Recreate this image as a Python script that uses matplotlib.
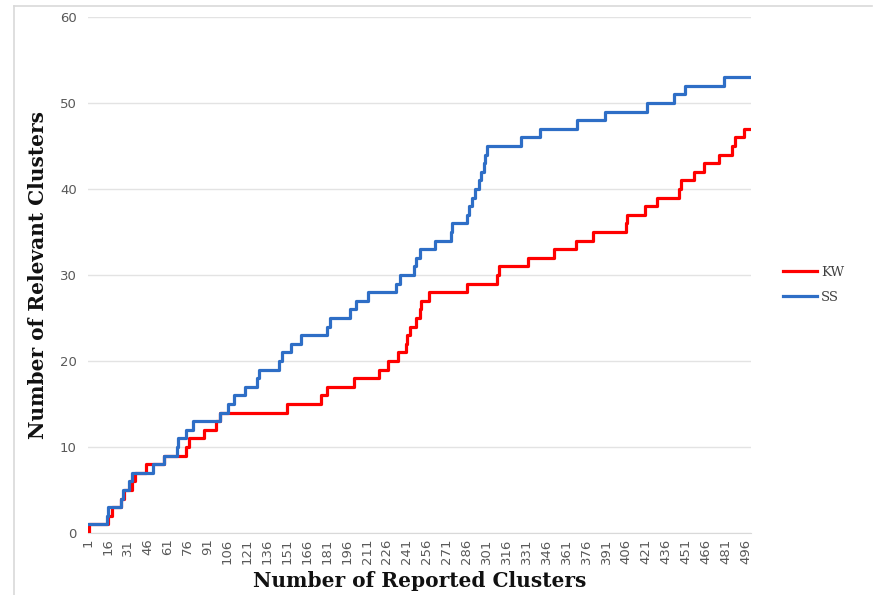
import matplotlib
matplotlib.use("Agg")
import matplotlib.pyplot as plt
from matplotlib.lines import Line2D

# Step change points: (number of reported clusters, number of relevant clusters)
kw_x = [1, 2, 16, 19, 26, 28, 34, 36, 45, 58, 75, 77, 88, 97, 100, 151, 176, 181,
        201, 220, 227, 234, 240, 241, 243, 248, 251, 252, 258, 286, 309, 310, 332,
        352, 368, 381, 406, 407, 420, 429, 446, 447, 457, 465, 476, 486, 488, 495, 500]
kw_y = [0, 1, 2, 3, 4, 5, 6, 7, 8, 9, 10, 11, 12, 13, 14, 15, 16, 17,
        18, 19, 20, 21, 22, 23, 24, 25, 26, 27, 28, 29, 30, 31, 32,
        33, 34, 35, 36, 37, 38, 39, 40, 41, 42, 43, 44, 45, 46, 47, 47]

ss_x = [1, 15, 16, 26, 27, 32, 34, 50, 58, 68, 69, 75, 80, 100, 106, 111, 119, 128,
        130, 145, 147, 154, 161, 181, 183, 198, 203, 212, 233, 236, 246, 248, 251,
        262, 274, 275, 286, 288, 290, 292, 295, 297, 299, 300, 301, 327, 341, 369,
        390, 422, 442, 450, 480, 500]
ss_y = [1, 2, 3, 4, 5, 6, 7, 8, 9, 10, 11, 12, 13, 14, 15, 16, 17, 18,
        19, 20, 21, 22, 23, 24, 25, 26, 27, 28, 29, 30, 31, 32, 33,
        34, 35, 36, 37, 38, 39, 40, 41, 42, 43, 44, 45, 46, 47, 48,
        49, 50, 51, 52, 53, 53]

x_ticks = list(range(1, 497, 15))
y_ticks = [0, 10, 20, 30, 40, 50, 60]

fig = plt.figure(figsize=(8.76, 5.95), dpi=100)
ax = fig.add_axes([88/876, 1 - 533/595, (751 - 88)/876, (533 - 17)/595])

ax.step(kw_x, kw_y, where='post', color='#ff0000', lw=2.3, label='KW', zorder=3)
ax.step(ss_x, ss_y, where='post', color='#2e6ec6', lw=2.3, label='SS', zorder=4)

ax.set_xlim(1, 500)
ax.set_ylim(0, 60)
ax.set_yticks(y_ticks)
ax.set_xticks(x_ticks)
ax.set_xticklabels([str(t) for t in x_ticks], rotation=90, fontsize=9.5, color='#595959')
ax.tick_params(axis='y', labelsize=9.5, labelcolor='#595959', length=0, pad=8)
ax.tick_params(axis='x', length=0, pad=4)
ax.grid(axis='y', color='#e3e3e3', lw=1)
ax.set_axisbelow(True)
for s in ['top', 'right', 'left']:
    ax.spines[s].set_visible(False)
ax.spines['bottom'].set_color('#d9d9d9')

ax.set_xlabel('Number of Reported Clusters', family='DejaVu Serif', fontweight='bold',
              fontsize=14.5, color='#111111', labelpad=5)
ax.set_ylabel('Number of Relevant Clusters', family='DejaVu Serif', fontweight='bold',
              fontsize=14.5, color='#111111', labelpad=9)

leg = fig.legend(loc='center left', bbox_to_anchor=(771/876, 1 - 285/595), frameon=False,
                 prop={'family': 'DejaVu Serif', 'size': 9.5}, handlelength=2.6,
                 handletextpad=0.3, labelspacing=0.9)
for t in leg.get_texts():
    t.set_color('#404040')

# chart area border (top and left edges visible)
fig.add_artist(Line2D([14/876, 872/876], [1 - 6/595, 1 - 6/595], color='#d9d9d9', lw=1.2))
fig.add_artist(Line2D([14/876, 14/876], [0, 1 - 6/595], color='#d9d9d9', lw=1.2))

fig.savefig('out.png', dpi=100)
